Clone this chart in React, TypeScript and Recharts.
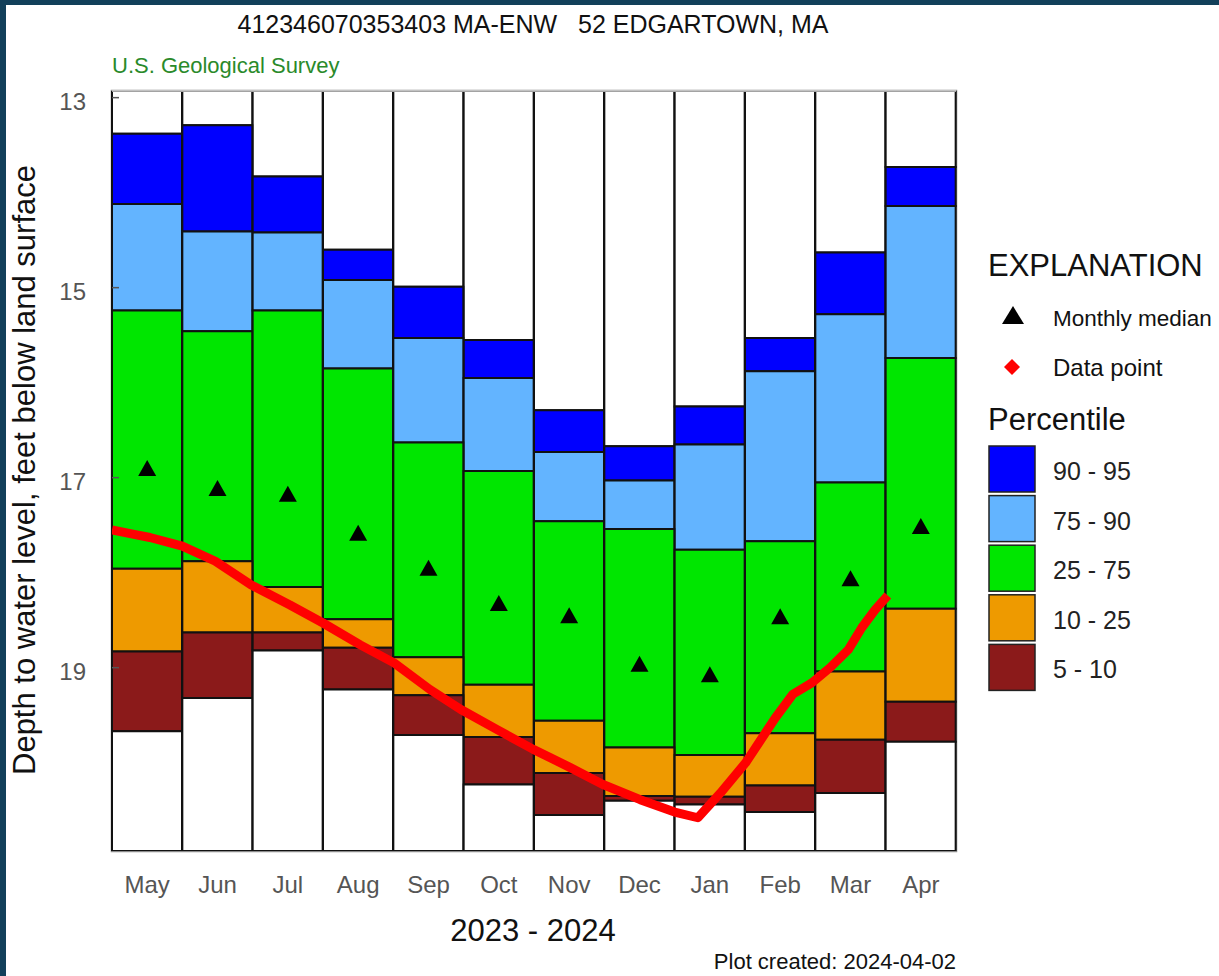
import React from "react";
import {
  ComposedChart,
  Bar,
  Line,
  XAxis,
  YAxis,
  ReferenceArea,
  ReferenceLine,
} from "recharts";

const FONT = '"Liberation Sans", Arial, sans-serif';

// Months of the water year shown (2023 - 2024)
const months = ["May", "Jun", "Jul", "Aug", "Sep", "Oct", "Nov", "Dec", "Jan", "Feb", "Mar", "Apr"];

// Percentile depths, feet below land surface (smaller = shallower)
const p95 = [13.38, 13.29, 13.83, 14.6, 14.99, 15.55, 16.29, 16.67, 16.25, 15.53, 14.63, 13.73];
const p90 = [14.12, 14.41, 14.42, 14.92, 15.53, 15.95, 16.73, 17.03, 16.65, 15.88, 15.28, 14.14];
const p75 = [15.24, 15.46, 15.24, 15.85, 16.63, 16.93, 17.46, 17.54, 17.76, 17.67, 17.05, 15.74];
const p25 = [17.96, 17.88, 18.15, 18.49, 18.89, 19.18, 19.56, 19.84, 19.92, 19.69, 19.04, 18.38];
const p10 = [18.83, 18.63, 18.63, 18.79, 19.29, 19.73, 20.11, 20.35, 20.36, 20.24, 19.76, 19.36];
const p5 = [19.67, 19.32, 18.82, 19.23, 19.71, 20.23, 20.55, 20.4, 20.44, 20.52, 20.32, 19.78];
const medians = [16.91, 17.12, 17.18, 17.59, 17.96, 18.33, 18.46, 18.97, 19.08, 18.47, 18.07, 17.52];

// Measured water levels; position in months since May 1
const obsPos = [0, 0.26, 0.54, 1.0, 1.47, 1.98, 2.53, 3.0, 3.53, 4.01, 4.52, 4.96, 5.47, 5.99, 6.51, 6.98, 7.51, 8.0, 8.33, 8.65, 9.01, 9.43, 9.68, 9.95, 10.21, 10.47, 10.66, 10.85, 11.03];
const obsDepth = [17.55, 17.59, 17.63, 17.72, 17.88, 18.13, 18.34, 18.53, 18.76, 18.95, 19.23, 19.44, 19.65, 19.86, 20.05, 20.23, 20.39, 20.52, 20.58, 20.32, 20.0, 19.53, 19.28, 19.16, 19.0, 18.81, 18.58, 18.39, 18.24];

const yTicks = [13, 15, 17, 19];
const Y_MIN = 12.93;
const Y_MAX = 20.93;

const colors = {
  b9095: "#0000ff",
  b7590: "#63b4ff",
  b2575: "#00e600",
  b1025: "#ee9a00",
  b510: "#8b1a1a",
};

const legendBands = [
  { label: "90 - 95", color: colors.b9095 },
  { label: "75 - 90", color: colors.b7590 },
  { label: "25 - 75", color: colors.b2575 },
  { label: "10 - 25", color: colors.b1025 },
  { label: "5 - 10", color: colors.b510 },
];

// stacked segments, top of plot to bottom
const chartData = months.map((m, i) => ({
  month: m,
  base: 12.5,
  top: p95[i] - 12.5,
  b9095: p90[i] - p95[i],
  b7590: p75[i] - p90[i],
  b2575: p25[i] - p75[i],
  b1025: p10[i] - p25[i],
  b510: p5[i] - p10[i],
  bottom: 21.5 - p5[i],
  median: medians[i],
}));

const lineData = obsPos.map((p, i) => ({ pos: p, depth: obsDepth[i] }));

const DepthTick = (props: any) => {
  const { x, y, payload } = props;
  return (
    <g>
      <line x1={x} x2={x + 7} y1={y} y2={y} stroke="#555" strokeWidth={1.5} />
      <text x={x - 26} y={y + 12} textAnchor="end" fontSize={24} fill="#555" fontFamily={FONT}>
        {payload.value}
      </text>
    </g>
  );
};

const MonthTick = (props: any) => {
  const { x, y, payload } = props;
  return (
    <text x={x} y={y + 42} textAnchor="middle" fontSize={24} fill="#555" fontFamily={FONT}>
      {payload.value}
    </text>
  );
};

const TriangleDot = (props: any) => {
  const { cx, cy, index } = props;
  if (cx == null || cy == null) return null;
  return (
    <polygon
      key={`tri-${index}`}
      points={`${cx},${cy - 9} ${cx - 9},${cy + 7} ${cx + 9},${cy + 7}`}
      fill="#000"
    />
  );
};

export default function App() {
  const bandStroke = { stroke: "#111", strokeWidth: 2 };
  return (
    <div
      style={{
        position: "absolute",
        left: 0,
        top: 0,
        width: 1219,
        height: 976,
        background: "#12405a",
        overflow: "hidden",
      }}
    >
      <div style={{ position: "absolute", left: 6, top: 5, right: 0, bottom: 0, background: "#fff" }} />
      <div style={{ position: "absolute", left: 0, top: 0 }}>
        <ComposedChart
          width={1219}
          height={976}
          data={chartData}
          margin={{ top: 91, right: 263, bottom: 65, left: 52 }}
          barCategoryGap={0}
          barGap={0}
        >
          <XAxis
            dataKey="month"
            height={60}
            interval={0}
            tickSize={0}
            tickMargin={0}
            axisLine={false}
            tickLine={false}
            tick={<MonthTick />}
          />
          <XAxis xAxisId="t" dataKey="pos" type="number" domain={[0, 12]} hide allowDataOverflow />
          <YAxis
            reversed
            domain={[Y_MIN, Y_MAX]}
            allowDataOverflow
            ticks={yTicks}
            width={60}
            tickSize={0}
            tickMargin={0}
            axisLine={false}
            tickLine={false}
            tick={<DepthTick />}
          />
          <Bar dataKey="base" stackId="p" fill="none" stroke="none" isAnimationActive={false} />
          <Bar dataKey="top" stackId="p" fill="#fff" {...bandStroke} isAnimationActive={false} />
          <Bar dataKey="b9095" stackId="p" fill={colors.b9095} {...bandStroke} isAnimationActive={false} />
          <Bar dataKey="b7590" stackId="p" fill={colors.b7590} {...bandStroke} isAnimationActive={false} />
          <Bar dataKey="b2575" stackId="p" fill={colors.b2575} {...bandStroke} isAnimationActive={false} />
          <Bar dataKey="b1025" stackId="p" fill={colors.b1025} {...bandStroke} isAnimationActive={false} />
          <Bar dataKey="b510" stackId="p" fill={colors.b510} {...bandStroke} isAnimationActive={false} />
          <Bar dataKey="bottom" stackId="p" fill="#fff" {...bandStroke} isAnimationActive={false} />
          <Line
            dataKey="median"
            stroke="none"
            dot={TriangleDot}
            activeDot={false}
            isAnimationActive={false}
          />
          <Line
            data={lineData}
            xAxisId="t"
            dataKey="depth"
            type="linear"
            stroke="#ff0000"
            strokeWidth={9}
            strokeLinejoin="round"
            dot={false}
            activeDot={false}
            isAnimationActive={false}
          />
          <ReferenceArea y1={Y_MIN} y2={Y_MAX} fill="none" stroke="#8c8c8c" strokeWidth={2.5} ifOverflow="visible" />
          <ReferenceLine y={Y_MIN} stroke="#d4d4d4" strokeWidth={1.5} ifOverflow="visible" />
        </ComposedChart>
      </div>
      <svg
        width={1219}
        height={976}
        style={{ position: "absolute", left: 0, top: 0, pointerEvents: "none" }}
        fontFamily={FONT}
      >
        <text x={533} y={33} textAnchor="middle" fontSize={25} fill="#111" xmlSpace="preserve">
          412346070353403 MA-ENW   52 EDGARTOWN, MA
        </text>
        <text x={112} y={73} fontSize={22} fill="#2a8a2a">
          U.S. Geological Survey
        </text>
        <text transform="translate(35,470) rotate(-90)" textAnchor="middle" fontSize={31} fill="#111">
          Depth to water level, feet below land surface
        </text>
        <text x={533} y={941} textAnchor="middle" fontSize={31} fill="#111">
          2023 - 2024
        </text>
        <text x={956} y={969} textAnchor="end" fontSize={22} fill="#111">
          Plot created: 2024-04-02
        </text>

        <text x={988} y={276} fontSize={31} fill="#111">
          EXPLANATION
        </text>
        <polygon points="1013,306 1002,324 1024,324" fill="#000" />
        <text x={1053} y={326} fontSize={22.5} fill="#111">
          Monthly median
        </text>
        <polygon points="1012,359 1020,367 1012,375 1004,367" fill="#ff0000" />
        <text x={1053} y={376} fontSize={24} fill="#111">
          Data point
        </text>
        <text x={988} y={430} fontSize={31} fill="#111">
          Percentile
        </text>
        {legendBands.map((b, i) => (
          <g key={b.label}>
            <rect x={989} y={446 + i * 49.6} width={46} height={46} fill={b.color} stroke="#222" strokeWidth={1.5} />
            <text x={1053} y={480 + i * 49.6} fontSize={25} fill="#222">
              {b.label}
            </text>
          </g>
        ))}
      </svg>
    </div>
  );
}
